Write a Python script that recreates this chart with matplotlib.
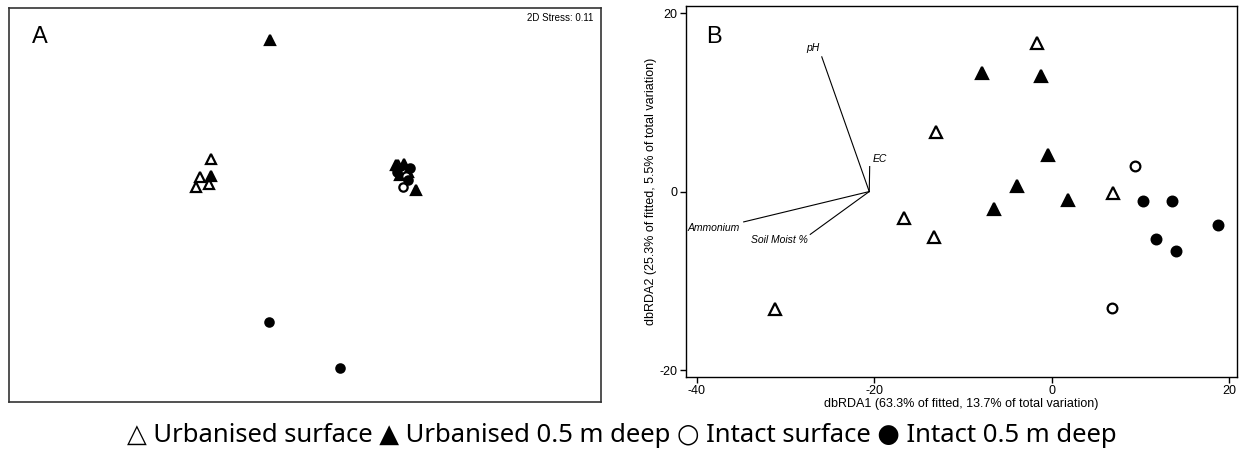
import matplotlib

matplotlib.use("Agg")
from matplotlib import pyplot as plt

plt.rcParams["axes.unicode_minus"] = False


# ----------------
# Data
# ----------------

groups = ["Urbanised surface", "Urbanised 0.5 m deep", "Intact surface", "Intact 0.5 m deep"]
symbols = ["\u25b3", "\u25b2", "\u25cb", "\u25cf"]

# Panel A: nMDS ordination (arbitrary units)
nmds_x = {
    "Urbanised surface": [-0.475, -0.533, -0.553, -0.488, 0.472, 0.523],
    "Urbanised 0.5 m deep": [-0.178, -0.476, 0.562, 0.461, 0.502, 0.482],
    "Intact surface": [0.497, 0.512],
    "Intact 0.5 m deep": [-0.184, 0.176, 0.533, 0.522, 0.467],
}
nmds_y = {
    "Urbanised surface": [0.232, 0.142, 0.092, 0.108, 0.203, 0.168],
    "Urbanised 0.5 m deep": [0.839, 0.147, 0.076, 0.203, 0.208, 0.153],
    "Intact surface": [0.092, 0.148],
    "Intact 0.5 m deep": [-0.595, -0.829, 0.188, 0.127, 0.168],
}
stress = 0.11

# Panel B: dbRDA ordination
rda_x = {
    "Urbanised surface": [-1.6, -13.0, -16.6, -13.3, -31.2, 6.9],
    "Urbanised 0.5 m deep": [-7.8, -1.15, -0.35, -3.9, -6.5, 1.8],
    "Intact surface": [9.4, 6.8],
    "Intact 0.5 m deep": [10.25, 13.6, 11.8, 14.0, 18.8],
}
rda_y = {
    "Urbanised surface": [16.6, 6.7, -3.0, -5.1, -13.2, -0.15],
    "Urbanised 0.5 m deep": [13.3, 12.9, 4.07, 0.6, -2.0, -1.0],
    "Intact surface": [2.84, -13.0],
    "Intact 0.5 m deep": [-1.1, -1.1, -5.3, -6.7, -3.8],
}

# Vector overlay
vec_origin = (-20.55, 0.0)
vec_names = ["pH", "EC", "Ammonium", "Soil Moist %"]
vec_x = [-25.9, -20.5, -34.7, -27.2]
vec_y = [15.1, 2.8, -3.4, -4.8]
vec_lab_x = [-26.9, -19.3, -38.1, -30.7]
vec_lab_y = [16.1, 3.7, -4.1, -5.45]

xlabel_b = "dbRDA1 (63.3% of fitted, 13.7% of total variation)"
ylabel_b = "dbRDA2 (25.3% of fitted, 5.5% of total variation)"

# marker style per group: (marker, filled)
styles = {
    "Urbanised surface": ("^", False),
    "Urbanised 0.5 m deep": ("^", True),
    "Intact surface": ("o", False),
    "Intact 0.5 m deep": ("o", True),
}


def draw_group(ax, xs, ys, name, size):
    marker, filled = styles[name]
    ms = size if marker == "^" else size - 1.5
    ax.plot(xs, ys, linestyle="none", marker=marker, markersize=ms,
            markerfacecolor="black" if filled else "white",
            markeredgecolor="black", markeredgewidth=1.6)


# --------------------------------------
# Figure
# --------------------------------------

fig = plt.figure(figsize=(12.48, 4.5), dpi=100)

# Panel A
ax_a = fig.add_axes([0.00745, 0.1073, 0.4739, 0.8742])
for g in groups:
    draw_group(ax_a, nmds_x[g], nmds_y[g], g, 7.5)
ax_a.set_xlim(-1.5, 1.5)
ax_a.set_ylim(-1.0, 1.0)
ax_a.set_xticks([])
ax_a.set_yticks([])
for s in ax_a.spines.values():
    s.set_linewidth(1.2)
    s.set_color("#333333")
ax_a.text(0.052, 0.928, "A", transform=ax_a.transAxes, fontsize=17,
          family="Liberation Sans", ha="center", va="center")
ax_a.text(0.987, 0.975, "2D Stress: %.2f" % stress, transform=ax_a.transAxes,
          fontsize=7, family="Liberation Sans", ha="right", va="center")

# Panel B
ax_b = fig.add_axes([0.5497, 0.1629, 0.4415, 0.8238])
for i in range(len(vec_names)):
    ax_b.plot([vec_origin[0], vec_x[i]], [vec_origin[1], vec_y[i]],
              color="black", linewidth=0.8)
    ax_b.text(vec_lab_x[i], vec_lab_y[i], vec_names[i], fontsize=7.5,
              style="italic", family="Liberation Sans", ha="center", va="center")
for g in groups:
    draw_group(ax_b, rda_x[g], rda_y[g], g, 8.5)
ax_b.set_xlim(-41.2, 20.9)
ax_b.set_ylim(-20.75, 20.8)
ax_b.set_xticks([-40, -20, 0, 20])
ax_b.set_yticks([-20, 0, 20])
ax_b.tick_params(direction="out", length=4, width=1, labelsize=9, pad=2)
for lab in ax_b.get_xticklabels() + ax_b.get_yticklabels():
    lab.set_family("Liberation Sans")
for s in ax_b.spines.values():
    s.set_linewidth(1.0)
ax_b.set_xlabel(xlabel_b, fontsize=9, family="Liberation Sans", labelpad=1)
ax_b.set_ylabel(ylabel_b, fontsize=9, family="Liberation Sans", labelpad=2)
ax_b.text(-38.0, 17.3, "B", fontsize=17, family="Liberation Sans",
          ha="center", va="center")

# Legend as text line
legend_text = " ".join(sym + " " + g for sym, g in zip(symbols, groups))
fig.text(0.4985, 1 - 435 / 450, legend_text, fontsize=18.5,
         family=["Noto Sans", "DejaVu Sans"], ha="center", va="center")

fig.savefig("out.png", dpi=100)
